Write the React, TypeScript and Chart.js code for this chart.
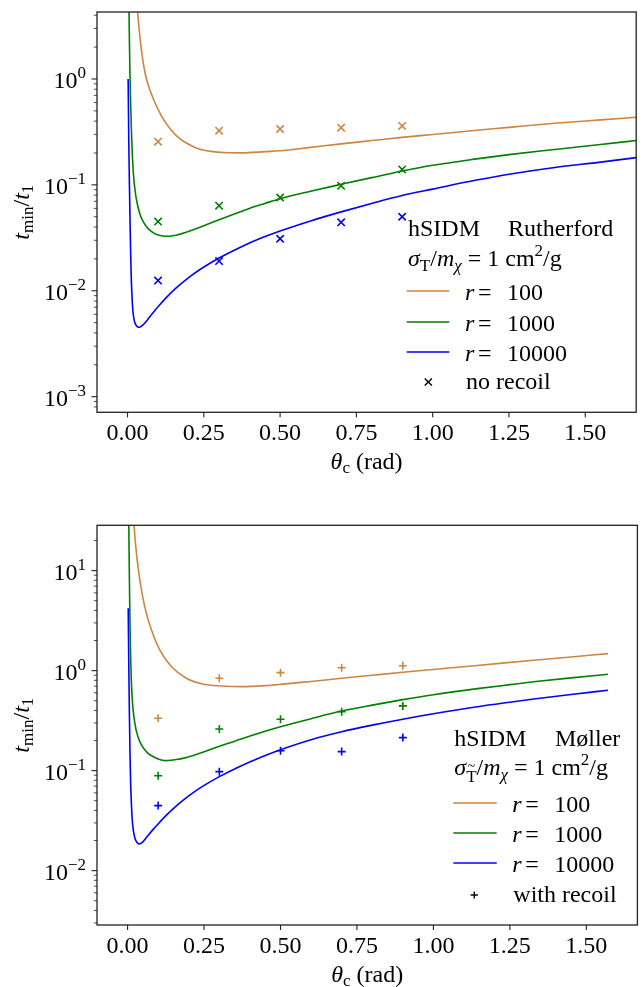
import React, { useEffect, useRef } from "react";
import { Chart, registerables } from "chart.js";
Chart.register(...registerables);

// ---------- data ----------
const xTickValues = [0, 0.25, 0.5, 0.75, 1.0, 1.25, 1.5];
const topDecades = [-3, -2, -1, 0];
const bottomDecades = [-2, -1, 0, 1];
const markerTheta = [0.1, 0.3, 0.5, 0.7, 0.9];
const seriesLabels = ["100", "1000", "10000"];

// Top panel (Rutherford)
const topR100Theta = [0.029, 0.033, 0.038, 0.043, 0.048, 0.054, 0.062, 0.078, 0.09, 0.105, 0.12, 0.137, 0.16, 0.19, 0.23, 0.28, 0.33, 0.375, 0.45, 0.5, 0.6, 0.7, 0.8, 0.9, 1.0, 1.144, 1.25, 1.4, 1.55, 1.667];
const topR100Tmin = [5.89, 4.3, 2.95, 2.16, 1.66, 1.29, 1.0, 0.724, 0.596, 0.484, 0.407, 0.347, 0.292, 0.251, 0.221, 0.206, 0.201, 0.2005, 0.206, 0.21, 0.226, 0.244, 0.262, 0.281, 0.299, 0.328, 0.349, 0.382, 0.411, 0.435];
const topR1000Theta = [0.003, 0.004, 0.006, 0.008, 0.01, 0.013, 0.016, 0.02, 0.025, 0.03, 0.04, 0.051, 0.065, 0.078, 0.095, 0.116, 0.135, 0.159, 0.19, 0.224, 0.26, 0.3, 0.35, 0.397, 0.45, 0.5, 0.6, 0.7, 0.8, 0.9, 1.0, 1.144, 1.25, 1.4, 1.55, 1.667];
const topR1000Tmin = [12.6, 7.08, 2.51, 1.12, 0.631, 0.316, 0.186, 0.12, 0.0871, 0.0708, 0.0537, 0.0452, 0.0394, 0.0363, 0.034, 0.0329, 0.0327, 0.0335, 0.0355, 0.0385, 0.0422, 0.0468, 0.0531, 0.0596, 0.0668, 0.0741, 0.0871, 0.1012, 0.117, 0.135, 0.153, 0.176, 0.193, 0.216, 0.241, 0.262];
const topR10000Theta = [0.002, 0.004, 0.006, 0.008, 0.01, 0.012, 0.015, 0.018, 0.022, 0.027, 0.032, 0.038, 0.05, 0.065, 0.083, 0.105, 0.127, 0.155, 0.181, 0.21, 0.245, 0.3, 0.365, 0.44, 0.5, 0.6, 0.7, 0.8, 0.9, 1.0, 1.144, 1.25, 1.4, 1.55, 1.667];
const topR10000Tmin = [1.0, 0.282, 0.112, 0.0501, 0.0251, 0.0141, 0.00851, 0.00631, 0.00525, 0.00479, 0.00459, 0.00452, 0.00473, 0.00531, 0.00617, 0.00733, 0.00861, 0.01035, 0.012, 0.01396, 0.0164, 0.0204, 0.0254, 0.0316, 0.0367, 0.0457, 0.0556, 0.0668, 0.0794, 0.0912, 0.111, 0.126, 0.146, 0.164, 0.181];
const topNoRecoilR100 = [0.256, 0.325, 0.337, 0.347, 0.36];
const topNoRecoilR1000 = [0.045, 0.0636, 0.076, 0.098, 0.14];
const topNoRecoilR10000 = [0.0125, 0.0191, 0.031, 0.0443, 0.05];

// Bottom panel (Møller)
const botR100Theta = [0.018, 0.021, 0.029, 0.04, 0.056, 0.078, 0.105, 0.143, 0.192, 0.245, 0.31, 0.37, 0.451, 0.5, 0.6, 0.7, 0.8, 0.9, 1.0, 1.144, 1.328, 1.45, 1.571];
const botR100Tmin = [39.8, 28.4, 14.9, 8.07, 4.37, 2.55, 1.61, 1.1, 0.839, 0.736, 0.703, 0.692, 0.708, 0.728, 0.78, 0.838, 0.899, 0.964, 1.028, 1.127, 1.271, 1.371, 1.479];
const botR1000Theta = [0.0035, 0.0045, 0.006, 0.0075, 0.0095, 0.012, 0.015, 0.019, 0.024, 0.03, 0.04, 0.052, 0.067, 0.08, 0.094, 0.11, 0.127, 0.159, 0.19, 0.224, 0.26, 0.3, 0.35, 0.386, 0.45, 0.5, 0.6, 0.7, 0.8, 0.9, 1.0, 1.144, 1.25, 1.328, 1.45, 1.571];
const botR1000Tmin = [44.7, 19.95, 7.94, 3.55, 1.585, 0.832, 0.537, 0.38, 0.295, 0.24, 0.195, 0.168, 0.149, 0.14, 0.133, 0.128, 0.126, 0.129, 0.135, 0.145, 0.158, 0.175, 0.197, 0.215, 0.248, 0.275, 0.331, 0.394, 0.452, 0.513, 0.575, 0.661, 0.724, 0.773, 0.847, 0.92];
const botR10000Theta = [0.002, 0.004, 0.006, 0.008, 0.01, 0.013, 0.016, 0.02, 0.025, 0.031, 0.038, 0.05, 0.065, 0.083, 0.105, 0.127, 0.155, 0.181, 0.21, 0.245, 0.3, 0.365, 0.44, 0.5, 0.6, 0.7, 0.8, 0.9, 1.0, 1.144, 1.25, 1.328, 1.45, 1.571];
const botR10000Tmin = [4.21, 1.122, 0.355, 0.141, 0.0759, 0.0427, 0.0302, 0.024, 0.0207, 0.0191, 0.0185, 0.0194, 0.0221, 0.0257, 0.0305, 0.0359, 0.0432, 0.0504, 0.0589, 0.0695, 0.0871, 0.1096, 0.138, 0.162, 0.204, 0.245, 0.285, 0.327, 0.37, 0.435, 0.483, 0.52, 0.578, 0.637];
const botRecoilR100 = [0.334, 0.839, 0.955, 1.07, 1.12];
const botRecoilR1000 = [0.089, 0.261, 0.327, 0.389, 0.444];
const botRecoilR10000 = [0.0447, 0.0977, 0.158, 0.155, 0.214];

// ---------- styling ----------
const COLORS = ["#cd853f", "#008000", "#0000ff"];
const W = 643;
const SERIF = '"Liberation Serif", "DejaVu Serif", serif';
const FS = 24;
const SUB = 17;

type Seg = [string, "i" | "r", number, number, string?];
const font = (s: string, size: number) => `${s === "i" ? "italic " : ""}${size}px ${SERIF}`;
function measureRich(ctx: CanvasRenderingContext2D, segs: Seg[]) {
  let w = 0;
  for (const [t, s, sz] of segs) {
    ctx.font = font(s, sz);
    w += ctx.measureText(t).width;
  }
  return w;
}
function drawRich(ctx: CanvasRenderingContext2D, x: number, y: number, segs: Seg[]) {
  let cx = x;
  for (const [t, s, sz, dy, accent] of segs) {
    ctx.font = font(s, sz);
    const w = ctx.measureText(t).width;
    ctx.fillText(t, cx, y + dy);
    if (accent) {
      ctx.font = font("r", sz * 0.8);
      const aw = ctx.measureText(accent).width;
      ctx.fillText(accent, cx + (w - aw) / 2, y + dy - sz * 0.62);
    }
    cx += w;
  }
  return cx - x;
}

interface PanelCfg {
  top: number;
  height: number;
  area: { left: number; top: number; right: number; bottom: number };
  xMin: number;
  xMax: number;
  yMin: number;
  yMax: number;
  decades: number[];
  lines: { xs: number[]; ys: number[] }[];
  markers: number[][];
  markerStyle: "crossRot" | "cross";
  markerRadius: number;
  legend: {
    textX: number;
    title: string;
    titleX: number;
    baselines: number[];
    lineX0: number;
    lineX1: number;
    labelX: number;
    markerX: number;
    sigmaSub: Seg;
    markerLabel: string;
  };
}

const topCfg: PanelCfg = {
  top: 0,
  height: 495,
  area: { left: 97, top: 12, right: 641.5, bottom: 412.3 },
  xMin: -0.1,
  xMax: 1.667,
  yMin: 7.12e-4,
  yMax: 4.29,
  decades: topDecades,
  lines: [
    { xs: topR100Theta, ys: topR100Tmin },
    { xs: topR1000Theta, ys: topR1000Tmin },
    { xs: topR10000Theta, ys: topR10000Tmin },
  ],
  markers: [topNoRecoilR100, topNoRecoilR1000, topNoRecoilR10000],
  markerStyle: "crossRot",
  markerRadius: 5.2,
  legend: {
    textX: 408,
    title: "Rutherford",
    titleX: 508,
    baselines: [236, 266, 300, 331, 361, 389],
    lineX0: 406.7,
    lineX1: 449.3,
    labelX: 465,
    markerX: 428.3,
    sigmaSub: ["T", "r", SUB, 5],
    markerLabel: "no recoil",
  },
};

const botCfg: PanelCfg = {
  top: 495,
  height: 492,
  area: { left: 97, top: 525.3, right: 641.5, bottom: 925 },
  xMin: -0.1,
  xMax: 1.667,
  yMin: 2.86e-3,
  yMax: 28.4,
  decades: bottomDecades,
  lines: [
    { xs: botR100Theta, ys: botR100Tmin },
    { xs: botR1000Theta, ys: botR1000Tmin },
    { xs: botR10000Theta, ys: botR10000Tmin },
  ],
  markers: [botRecoilR100, botRecoilR1000, botRecoilR10000],
  markerStyle: "cross",
  markerRadius: 4,
  legend: {
    textX: 454.3,
    title: "Møller",
    titleX: 555,
    baselines: [746, 775, 812, 842, 872, 902],
    lineX0: 453.3,
    lineX1: 496.7,
    labelX: 512.3,
    markerX: 474.3,
    sigmaSub: ["T", "r", SUB, 7, "~"],
    markerLabel: "with recoil",
  },
};

function Panel({ cfg }: { cfg: PanelCfg }) {
  const ref = useRef<HTMLCanvasElement>(null);
  useEffect(() => {
    const canvas = ref.current!;
    const off = cfg.top;
    const datasets: any[] = [];
    cfg.lines.forEach((l, i) => {
      datasets.push({
        type: "line",
        data: l.xs.map((x, j) => ({ x, y: l.ys[j] })),
        borderColor: COLORS[i],
        borderWidth: 1.6,
        pointRadius: 0,
        fill: false,
        cubicInterpolationMode: "monotone",
      });
    });
    cfg.markers.forEach((m, i) => {
      datasets.push({
        type: "line",
        showLine: false,
        data: markerTheta.map((x, j) => ({ x, y: m[j] })),
        borderColor: COLORS[i],
        backgroundColor: COLORS[i],
        pointStyle: cfg.markerStyle,
        pointRadius: cfg.markerRadius,
        pointBorderWidth: 1.6,
        pointBorderColor: COLORS[i],
      });
    });

    const decor = {
      id: "decor",
      afterDraw(chart: any) {
        const ctx: CanvasRenderingContext2D = chart.ctx;
        const a = chart.chartArea;
        const xs = chart.scales.x;
        const ys = chart.scales.y;
        ctx.save();
        ctx.fillStyle = "#000";
        ctx.strokeStyle = "#222";
        ctx.textBaseline = "alphabetic";
        ctx.textAlign = "left";
        // frame
        ctx.lineWidth = 1.3;
        ctx.strokeRect(a.left, a.top, a.right - a.left, a.bottom - a.top);
        // x ticks
        ctx.lineWidth = 1.1;
        for (const v of xTickValues) {
          const px = xs.getPixelForValue(v);
          ctx.beginPath();
          ctx.moveTo(px, a.bottom);
          ctx.lineTo(px, a.bottom + 5);
          ctx.stroke();
          const label = v.toFixed(2);
          ctx.font = font("r", FS);
          const w = ctx.measureText(label).width;
          ctx.fillText(label, px - w / 2, a.bottom + 28);
        }
        // y ticks (log major + minor)
        const d0 = Math.floor(Math.log10(cfg.yMin));
        const d1 = Math.ceil(Math.log10(cfg.yMax));
        for (let d = d0; d <= d1; d++) {
          for (let k = 1; k <= 9; k++) {
            const v = k * Math.pow(10, d);
            if (v < cfg.yMin || v > cfg.yMax) continue;
            const py = ys.getPixelForValue(v);
            ctx.lineWidth = k === 1 ? 1.1 : 0.8;
            ctx.beginPath();
            ctx.moveTo(a.left, py);
            ctx.lineTo(a.left - (k === 1 ? 5.5 : 3.2), py);
            ctx.stroke();
          }
        }
        for (const d of cfg.decades) {
          const py = ys.getPixelForValue(Math.pow(10, d));
          const exp = d < 0 ? "\u2212" + Math.abs(d) : String(d);
          const segs: Seg[] = [["10", "r", FS, 0], [exp, "r", SUB, -10]];
          const w = measureRich(ctx, segs);
          drawRich(ctx, 86 - w, py + 9, segs);
        }
        // x label
        const xl: Seg[] = [["\u03b8", "i", FS, 0], ["c", "r", SUB, 4], [" (rad)", "r", FS, 0]];
        const xw = measureRich(ctx, xl);
        drawRich(ctx, (a.left + a.right) / 2 - xw / 2, a.bottom + 57, xl);
        // y label
        const yl: Seg[] = [["t", "i", FS, 0], ["min", "r", SUB, 4], ["/", "r", FS, 0], ["t", "i", FS, 0], ["1", "r", SUB, 4]];
        const yw = measureRich(ctx, yl);
        ctx.save();
        ctx.translate(29, (a.top + a.bottom) / 2);
        ctx.rotate(-Math.PI / 2);
        drawRich(ctx, -yw / 2, 0, yl);
        ctx.restore();
        // legend
        const L = cfg.legend;
        const b = L.baselines.map((v) => v - off);
        drawRich(ctx, L.textX, b[0], [["hSIDM", "r", FS, 0]]);
        drawRich(ctx, L.titleX, b[0], [[L.title, "r", FS, 0]]);
        drawRich(ctx, L.textX, b[1], [
          ["\u03c3", "i", FS, 0],
          L.sigmaSub,
          ["/", "r", FS, 0],
          ["m", "i", FS, 0],
          ["\u03c7", "i", SUB, 5],
          [" = 1 ", "r", FS, 0],
          ["cm", "r", FS, 0],
          ["2", "r", SUB, -10],
          ["/g", "r", FS, 0],
        ]);
        for (let i = 0; i < 3; i++) {
          const yb = b[2 + i];
          ctx.strokeStyle = COLORS[i];
          ctx.lineWidth = 1.6;
          ctx.beginPath();
          ctx.moveTo(L.lineX0, yb - 9);
          ctx.lineTo(L.lineX1, yb - 9);
          ctx.stroke();
          drawRich(ctx, L.labelX, yb, [["r", "i", FS, 0]]);
          drawRich(ctx, L.labelX + 13, yb, [["=", "r", FS, 0]]);
          drawRich(ctx, L.labelX + 42, yb, [[seriesLabels[i], "r", FS, 0]]);
        }
        const my = b[5] - 7;
        ctx.strokeStyle = "#000";
        ctx.lineWidth = 1.4;
        ctx.beginPath();
        const r = 3.6;
        if (cfg.markerStyle === "crossRot") {
          ctx.moveTo(L.markerX - r, my - r);
          ctx.lineTo(L.markerX + r, my + r);
          ctx.moveTo(L.markerX - r, my + r);
          ctx.lineTo(L.markerX + r, my - r);
        } else {
          ctx.moveTo(L.markerX - r, my);
          ctx.lineTo(L.markerX + r, my);
          ctx.moveTo(L.markerX, my - r);
          ctx.lineTo(L.markerX, my + r);
        }
        ctx.stroke();
        drawRich(ctx, L.labelX + 1, b[5], [[L.markerLabel, "r", FS, 0]]);
        ctx.restore();
      },
    };

    const chart = new Chart(canvas, {
      type: "line",
      data: { datasets },
      options: {
        animation: false,
        responsive: false,
        devicePixelRatio: 1,
        events: [],
        layout: {
          padding: {
            left: cfg.area.left,
            top: cfg.area.top - off,
            right: W - cfg.area.right,
            bottom: off + cfg.height - cfg.area.bottom,
          },
        },
        scales: {
          x: { type: "linear", min: cfg.xMin, max: cfg.xMax, display: false },
          y: { type: "logarithmic", min: cfg.yMin, max: cfg.yMax, display: false },
        },
        plugins: { legend: { display: false }, tooltip: { enabled: false } },
      } as any,
      plugins: [decor],
    });
    return () => chart.destroy();
  }, [cfg]);
  return (
    <canvas
      ref={ref}
      width={W}
      height={cfg.height}
      style={{ position: "absolute", left: 0, top: cfg.top, width: W, height: cfg.height }}
    />
  );
}

export default function App() {
  return (
    <div style={{ position: "absolute", left: 0, top: 0, width: W, height: 987, overflow: "hidden", background: "#fff" }}>
      <Panel cfg={topCfg} />
      <Panel cfg={botCfg} />
    </div>
  );
}
